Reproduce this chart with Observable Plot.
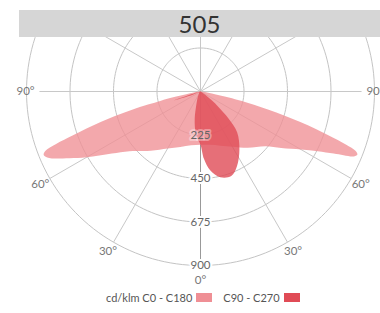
<!DOCTYPE html>
<html><head><meta charset="utf-8">
<script src="https://cdn.jsdelivr.net/npm/d3@7"></script>
<script src="https://cdn.jsdelivr.net/npm/@observablehq/plot@0.6"></script>
<style>
html,body{margin:0;padding:0;background:#fff;}
body{width:380px;height:313px;overflow:hidden;position:relative;font-family:Lato,"Open Sans",sans-serif;}
#title{position:absolute;left:19px;top:10px;width:361px;height:27px;background:#d6d6d6;color:#333;font-size:24px;line-height:28px;text-align:center;z-index:2;}
#chart{position:absolute;left:0;top:37px;width:380px;height:250px;overflow:hidden;}
#chart svg{overflow:hidden;}
#legend{position:absolute;top:291px;left:106px;font-size:11px;color:#555;display:flex;align-items:center;white-space:nowrap;}
.sw{display:inline-block;width:16px;height:9px;margin-left:4px;}
</style></head>
<body>
<div id="title"></div>
<div id="chart"></div>
<div id="legend"></div>
<script>
const titleText = "505";
const unitLabel = "cd/klm";
const seriesNames = ["C0 - C180", "C90 - C270"];
const seriesColors = ["#ef8f95", "#e04b56"];

// gamma angles (deg from nadir) and intensities (cd/klm)
const gammaA = [0,10,20,30,40,50,55,60,63,65,66,67,68,69,70,71,72,73,74,75,76,77,78,80,85,90];
const c0   = [275,280,298,330,380,440,510,600,680,760,810,860,875,860,800,710,630,540,450,365,285,215,150,60,15,0];
const c180 = [275,282,305,340,400,480,560,680,760,820,850,868,875,860,795,700,620,540,460,370,280,210,150,60,15,0];

const gammaC90 = [0,3,7,13,20,26,34,42,46,50,52,55,60,70,90];
const c90      = [275,350,410,455,465,430,360,283,204,110,70,30,5,0,0];
const gammaC270 = [0,3,7,12,17,22,27,35,50,65,68,70,71.5,73,75,80,90];
const c270      = [275,250,212,144,76,45,30,15,8,10,40,100,148,70,15,0,0];

const rings = [225, 450, 675, 900];
const spokeAngles = [0,30,60,90,120,150,180,210,240,270,300,330];
const angleTicks = [0,30,60,90];

const rad = d => d * Math.PI / 180;
function pts(gam, vals, side, series) {
  return gam.map((g, i) => ({x: side * vals[i] * Math.sin(rad(g)), y: -vals[i] * Math.cos(rad(g)), series}));
}
function shape(gL, vL, gR, vR, series) {
  const left = pts(gL, vL, -1, series).reverse();
  const right = pts(gR, vR, 1, series).slice(1);
  return left.concat(right);
}
const shapeA = shape(gammaA, c180, gammaA, c0, seriesNames[0]);
const shapeB = shape(gammaC270, c270, gammaC90, c90, seriesNames[1]);

const ringPts = rings.flatMap(r => d3.range(0, 361, 2).map(a => ({r, x: r * Math.sin(rad(a)), y: -r * Math.cos(rad(a))})));
const spokes = spokeAngles.map(a => {
  const R = (a === 90 || a === 270) ? 833 : 900;
  return {x2: R * Math.sin(rad(a)), y2: -R * Math.cos(rad(a)), a};
});
const angleLabels = angleTicks.flatMap(a => {
  const R = a === 0 ? 975 : (a === 90 ? 905 : 957);
  const sides = a === 0 ? [1] : [-1, 1];
  return sides.map(s => ({x: s * R * Math.sin(rad(a)), y: -R * Math.cos(rad(a)), t: a + "°"}));
});

const k = 174 / 900;
const W = 380, H = 250, cx = 200, cy = 54;

document.getElementById("title").textContent = titleText;

const plot = Plot.plot({
  width: W, height: H,
  margin: 0,
  x: {domain: [-cx / k, (W - cx) / k], axis: null},
  y: {domain: [-(H - cy) / k, cy / k], axis: null},
  style: {fontFamily: "Lato, 'Open Sans', sans-serif", background: "white", overflow: "hidden"},
  marks: [
    Plot.line(ringPts, {x: "x", y: "y", z: "r", stroke: "#c4c4c4", strokeWidth: 1}),
    Plot.link(spokes, {x1: 0, y1: 0, x2: "x2", y2: "y2", stroke: "#c8c8c8", strokeWidth: 1}),
    Plot.link([{a: 0}], {x1: 0, y1: 0, x2: 0, y2: -900, stroke: "#999", strokeWidth: 1}),
    Plot.text(angleLabels, {x: "x", y: "y", text: "t", fill: "#777", fontSize: 11.5}),
    Plot.line(shapeA, {x: "x", y: "y", fill: seriesColors[0], fillOpacity: 0.78, stroke: "none", curve: "catmull-rom"}),
    Plot.line(shapeB, {x: "x", y: "y", fill: seriesColors[1], fillOpacity: 0.8, stroke: "none", curve: "catmull-rom"}),
    Plot.text(rings, {x: 0, y: d => -d, text: d => String(d), fill: "#666", fontSize: 11.5, stroke: "white", strokeOpacity: d => d === 225 ? 0.35 : 1, strokeWidth: 4, paintOrder: "stroke"})
  ]
});
document.getElementById("chart").appendChild(plot);

const lg = document.getElementById("legend");
lg.innerHTML = `<span>${unitLabel} ${seriesNames[0]}</span><span class="sw" style="background:${seriesColors[0]}"></span>` +
  `<span style="margin-left:11px">${seriesNames[1]}</span><span class="sw" style="background:${seriesColors[1]}"></span>`;
</script>
</body></html>
